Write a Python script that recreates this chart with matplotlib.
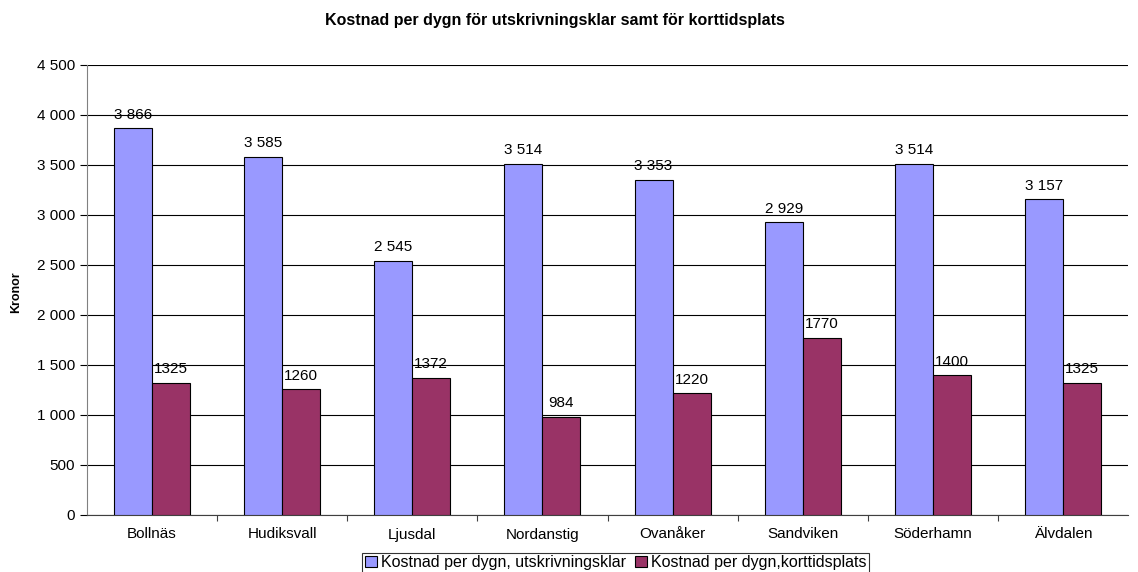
# Kostnad per dygn - grouped bar chart

import numpy as np
import matplotlib.pyplot as plt
from matplotlib.ticker import FuncFormatter

kommuner = ["Bollnäs", "Hudiksvall", "Ljusdal", "Nordanstig",
            "Ovanåker", "Sandviken", "Söderhamn", "Älvdalen"]
utskrivningsklar = [3866, 3585, 2545, 3514, 3353, 2929, 3514, 3157]
korttidsplats = [1325, 1260, 1372, 984, 1220, 1770, 1400, 1325]

plt.rcParams['font.family'] = ['Liberation Sans', 'DejaVu Sans']

fig = plt.figure(figsize=(11.38, 5.72), dpi=100)
ax = fig.add_axes([87 / 1138, 57 / 572, (1128 - 87) / 1138, (515 - 65) / 572])

x = np.arange(len(kommuner))
w = 0.292
fs = 11

b1 = ax.bar(x - w / 2, utskrivningsklar, w, color='#9999FF', edgecolor='black',
            linewidth=0.8, label="Kostnad per dygn, utskrivningsklar", zorder=3)
b2 = ax.bar(x + w / 2, korttidsplats, w, color='#993366', edgecolor='black',
            linewidth=0.8, label="Kostnad per dygn,korttidsplats", zorder=3)

def space_fmt(v, pos=None):
    return f"{int(v):,}".replace(",", " ")

for rect, v in zip(b1, utskrivningsklar):
    ax.text(rect.get_x() + rect.get_width() / 2, v + 65, space_fmt(v),
            ha='center', va='bottom', fontsize=fs, zorder=4)
for rect, v in zip(b2, korttidsplats):
    ax.text(rect.get_x() + rect.get_width() / 2, v + 65, str(v),
            ha='center', va='bottom', fontsize=fs, zorder=4)

ax.set_xlim(-0.5, len(kommuner) - 0.5)
ax.set_ylim(0, 4500)
ax.set_yticks(np.arange(0, 4501, 500))
ax.yaxis.set_major_formatter(FuncFormatter(space_fmt))
ax.set_xticks(x)
ax.set_xticklabels(kommuner, fontsize=fs)
ax.set_xticks(np.arange(0.5, len(kommuner) - 0.5), minor=True)
ax.tick_params(axis='y', labelsize=fs, length=5, direction='out', width=0.8)
ax.tick_params(axis='x', which='major', length=0, pad=9)
ax.tick_params(axis='x', which='minor', length=4, width=0.8, color='#404040')
ax.grid(axis='y', color='black', linewidth=0.8, zorder=0)

for s in ['top', 'right']:
    ax.spines[s].set_visible(False)
ax.spines['left'].set_color('#808080')
ax.spines['bottom'].set_color('#404040')

fig.text(16 / 1138, 1 - 292 / 572, "Kronor", rotation=90, fontsize=9,
         fontweight='bold', ha='center', va='center')
fig.text(555 / 1138, 1 - 21 / 572,
         "Kostnad per dygn för utskrivningsklar samt för korttidsplats",
         fontsize=11.5, fontweight='bold', ha='center', va='center')

leg = ax.legend(loc='upper center', bbox_to_anchor=(0.508, -0.084), ncol=2,
                fontsize=11.5, frameon=True, fancybox=False, edgecolor='black',
                handlelength=0.75, handleheight=0.75, handletextpad=0.25,
                columnspacing=0.6, borderpad=0.15, borderaxespad=0)
leg.get_frame().set_linewidth(0.8)

fig.savefig("out.png", dpi=100)
